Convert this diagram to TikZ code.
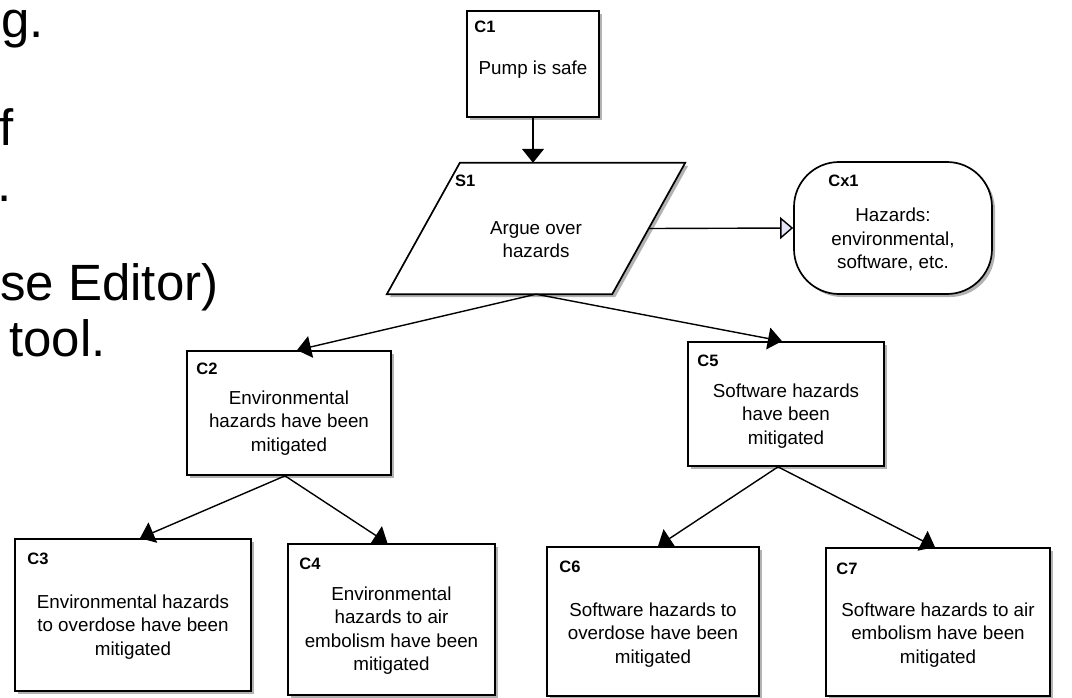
\documentclass[tikz,border=0pt]{standalone}
\usepackage{fontspec}
\setmainfont{Liberation Sans}
\usetikzlibrary{arrows.meta,shadows,calc}
\definecolor{tipfill}{RGB}{228,230,248}
\begin{document}
\begin{tikzpicture}[x=1pt,y=-1pt,
  box/.style={draw=black, line width=1.7pt, fill=white, inner sep=0pt,
    drop shadow={shadow xshift=3pt, shadow yshift=-3pt, fill=black, opacity=0.3}},
  lab/.style={anchor=base west, font=\fontsize{16.5}{19}\selectfont\bfseries, inner sep=0pt},
  body/.style={align=center, font=\fontsize{18.8}{23.5}\selectfont, inner sep=0pt},
  conn/.style={line width=1.4pt, -{Triangle[length=14pt,width=22pt]}},
  ctx/.style={line width=1.4pt, -{Triangle[length=13pt,width=22pt,fill=tipfill]}},
  big/.style={anchor=base west, font=\fontsize{51}{56}\selectfont, inner sep=0pt}]
\useasboundingbox (0,0) rectangle (1072,697);

% left slide text fragments
\node[big] (t1) at (1,37) {g.};
\node[big] (t2) at (-1,145) {f};
\node[big] (t3) at (-3,201) {.};
\node[big] (t4) at (0,300) {se Editor)};
\node[big] (t5) at (9,356) {tool.};

% boxes
\node[box, minimum width=132, minimum height=106] (C1) at (533,64) {};
\node[minimum width=226, minimum height=131, inner sep=0pt] (S1) at (536,228.5) {};
\draw[box] ($(S1.north west)+(37,0)$) -- ($(S1.north east)+(36,0)$)
  -- ($(S1.south east)+(-37,0)$) -- ($(S1.south west)+(-36,0)$) -- cycle;
\node[box, rounded corners=45, minimum width=198, minimum height=132] (Cx1) at (893,228) {};
\node[box, minimum width=204, minimum height=124] (C2) at (289,413) {};
\node[box, minimum width=196, minimum height=124] (C5) at (786,404) {};
\node[box, minimum width=236, minimum height=152] (C3) at (133,615) {};
\node[box, minimum width=207, minimum height=151] (C4) at (391.5,619.5) {};
\node[box, minimum width=212, minimum height=149] (C6) at (653,621.5) {};
\node[box, minimum width=224, minimum height=148] (C7) at (938,622) {};

% labels
\node[lab] (C1l) at ($(C1.north west)+(8,22)$) {C1};
\node[lab] (S1l) at ($(S1.north west)+(32,24)$) {S1};
\node[lab] (Cx1l) at ($(Cx1.north west)+(35,25)$) {Cx1};
\node[lab] (C2l) at ($(C2.north west)+(10,24)$) {C2};
\node[lab] (C5l) at ($(C5.north west)+(10,25)$) {C5};
\node[lab] (C3l) at ($(C3.north west)+(13,26)$) {C3};
\node[lab] (C4l) at ($(C4.north west)+(12,26)$) {C4};
\node[lab] (C6l) at ($(C6.north west)+(13,26)$) {C6};
\node[lab] (C7l) at ($(C7.north west)+(11,27)$) {C7};

% body texts
\node[body] (C1t) at ($(C1.center)+(0,6)$) {Pump is safe};
\node[body] (S1t) at ($(S1.center)+(0,11)$) {Argue over\\hazards};
\node[body] (Cx1t) at ($(Cx1.center)+(0,11.5)$) {Hazards:\\environmental,\\software, etc.};
\node[body] (C2t) at ($(C2.center)+(0,10)$) {Environmental\\hazards have been\\mitigated};
\node[body] (C5t) at ($(C5.center)+(0,12)$) {Software hazards\\have been\\mitigated};
\node[body] (C3t) at ($(C3.center)+(0,12)$) {Environmental hazards\\to overdose have been\\mitigated};
\node[body] (C4t) at ($(C4.center)+(0,11)$) {Environmental\\hazards to air\\embolism have been\\mitigated};
\node[body] (C6t) at ($(C6.center)+(0,13.5)$) {Software hazards to\\overdose have been\\mitigated};
\node[body] (C7t) at ($(C7.center)+(0,13)$) {Software hazards to air\\embolism have been\\mitigated};

% connectors
\draw[conn] (C1.south) -- (C1.south |- S1.north);
\draw[ctx] (S1.east) -- (Cx1.west);
\draw[conn] (S1.south) -- ([xshift=8]C2.north);
\draw[conn] (S1.south) -- ([xshift=-4]C5.north);
\draw[conn] ([xshift=-4]C2.south) -- ([xshift=7]C3.north);
\draw[conn] ([xshift=-4]C2.south) -- ([xshift=-4]C4.north);
\draw[conn] ([xshift=-8]C5.south) -- ([xshift=5]C6.north);
\draw[conn] ([xshift=-8]C5.south) -- ([xshift=-3]C7.north);
\end{tikzpicture}
\end{document}
